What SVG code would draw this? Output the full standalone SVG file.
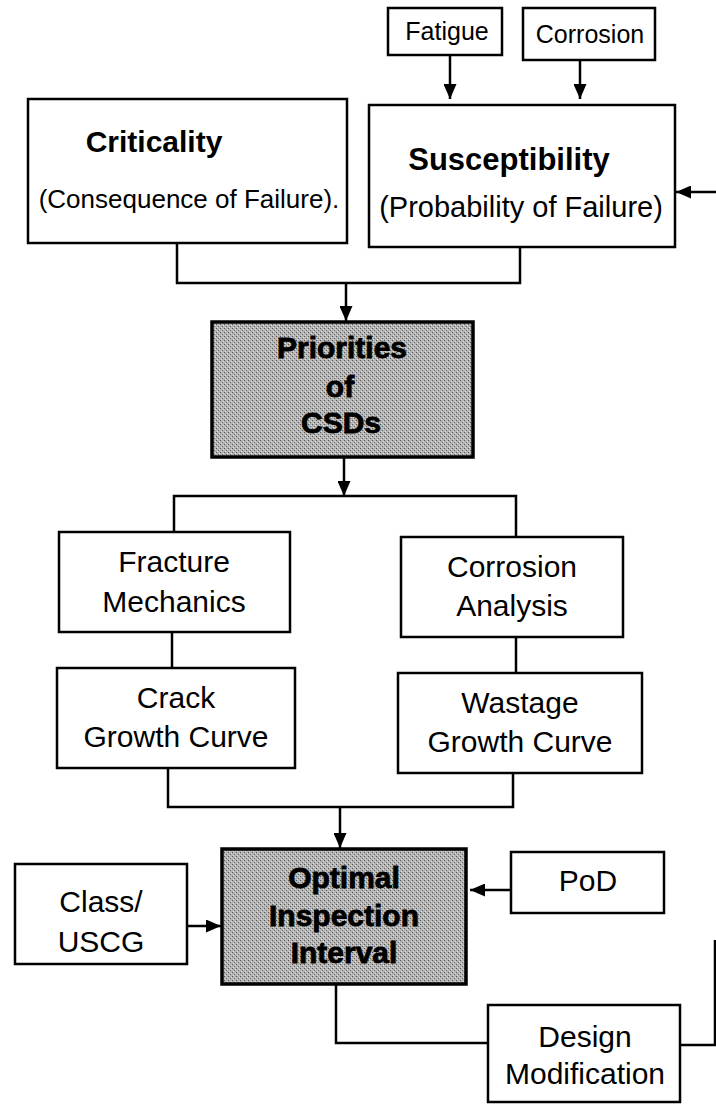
<svg xmlns="http://www.w3.org/2000/svg" width="716" height="1107" viewBox="0 0 716 1107">
<defs>
<marker id="arr" viewBox="0 0 15 13" refX="15" refY="6.5" markerWidth="15" markerHeight="13" markerUnits="userSpaceOnUse" orient="auto">
<path d="M0,0 L15,6.5 L0,13 z" fill="#000"/>
</marker>
<pattern id="stip" width="4" height="4" patternUnits="userSpaceOnUse">
<rect width="4" height="4" fill="#b4b4b4"/>
<rect x="0" y="0" width="1" height="1" fill="#555"/>
<rect x="2" y="2" width="1" height="1" fill="#666"/>
<rect x="3" y="1" width="1" height="1" fill="#ddd"/>
<rect x="1" y="3" width="1" height="1" fill="#ddd"/>
</pattern>
</defs>
<style>
.box{fill:#fff;stroke:#000;stroke-width:2.5}
.shade{fill:url(#stip);stroke:#000;stroke-width:3.5}
.t{font-family:"Liberation Sans",Arial,Helvetica,sans-serif;font-size:30px;fill:#000;text-anchor:middle}
.s{font-size:25px}
.b{font-weight:bold}
.h{font-weight:bold;stroke:#000;stroke-width:0.8}
.c{fill:none;stroke:#000;stroke-width:2.5}
</style>
<rect width="716" height="1107" fill="#fff"/>

<g id="connectors">
<path class="c" d="M450,55 V99" marker-end="url(#arr)"/>
<path class="c" d="M580,60 V99" marker-end="url(#arr)"/>
<path class="c" d="M716,192 H676" marker-end="url(#arr)"/>
<path class="c" d="M177,243 V283 H520 V247"/>
<path class="c" d="M346,283 V321" marker-end="url(#arr)"/>
<path class="c" d="M344,457 V496" marker-end="url(#arr)"/>
<path class="c" d="M174,532 V496 H516 V537"/>
<path class="c" d="M172,632 V668"/>
<path class="c" d="M516,637 V673"/>
<path class="c" d="M168,768 V807 H513 V773"/>
<path class="c" d="M340,807 V848" marker-end="url(#arr)"/>
<path class="c" d="M511,890 H470" marker-end="url(#arr)"/>
<path class="c" d="M187,926 H221" marker-end="url(#arr)"/>
<path class="c" d="M336,984 V1043 H488"/>
<path class="c" d="M680,1045 H715 V940"/>
</g>

<g id="fatigue">
<rect class="box" x="388" y="8" width="114" height="47"/>
<text class="t s" x="447" y="40">Fatigue</text>
</g>
<g id="corrosion">
<rect class="box" x="523" y="8" width="132" height="52"/>
<text class="t s" x="590" y="43">Corrosion</text>
</g>
<g id="criticality">
<rect class="box" x="28" y="99" width="319" height="144"/>
<text class="t b" x="154" y="152">Criticality</text>
<text class="t" x="189" y="208" style="font-size:26px">(Consequence of Failure).</text>
</g>
<g id="susceptibility">
<rect class="box" x="369" y="105" width="306" height="142"/>
<text class="t b" x="509" y="170" style="font-size:31px">Susceptibility</text>
<text class="t" x="521" y="217" style="font-size:29px">(Probability of Failure)</text>
</g>
<g id="priorities">
<rect class="shade" x="212" y="322" width="261" height="135"/>
<text class="t h" x="342" y="358">Priorities</text>
<text class="t h" x="340" y="397">of</text>
<text class="t h" x="341" y="433">CSDs</text>
</g>
<g id="fracture">
<rect class="box" x="59" y="532" width="231" height="100"/>
<text class="t" x="174" y="572">Fracture</text>
<text class="t" x="174" y="612">Mechanics</text>
</g>
<g id="corrosion-analysis">
<rect class="box" x="401" y="537" width="222" height="100"/>
<text class="t" x="512" y="577">Corrosion</text>
<text class="t" x="512" y="616">Analysis</text>
</g>
<g id="crack">
<rect class="box" x="57" y="668" width="238" height="100"/>
<text class="t" x="176" y="708">Crack</text>
<text class="t" x="176" y="747">Growth Curve</text>
</g>
<g id="wastage">
<rect class="box" x="398" y="673" width="244" height="100"/>
<text class="t" x="520" y="713">Wastage</text>
<text class="t" x="520" y="752">Growth Curve</text>
</g>
<g id="optimal">
<rect class="shade" x="222" y="849" width="244" height="135"/>
<text class="t h" x="344" y="888">Optimal</text>
<text class="t h" x="344" y="926">Inspection</text>
<text class="t h" x="344" y="963">Interval</text>
</g>
<g id="pod">
<rect class="box" x="511" y="852" width="153" height="61"/>
<text class="t" x="588" y="891">PoD</text>
</g>
<g id="class">
<rect class="box" x="15" y="864" width="172" height="100"/>
<text class="t" x="101" y="912">Class/</text>
<text class="t" x="101" y="952">USCG</text>
</g>
<g id="design">
<rect class="box" x="488" y="1005" width="192" height="97"/>
<text class="t" x="585" y="1047">Design</text>
<text class="t" x="585" y="1084">Modification</text>
</g>
</svg>
